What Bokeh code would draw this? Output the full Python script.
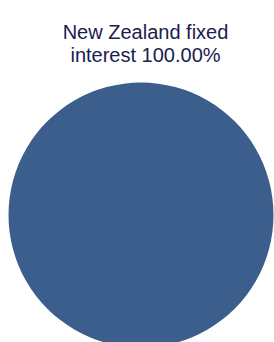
import math
from bokeh.plotting import figure
from bokeh.models import ColumnDataSource, Range1d
from bokeh.core.properties import value
from bokeh.embed import file_html
from bokeh.resources import INLINE

categories = ["New Zealand fixed interest"]
values = [100.0]
colors = ["#3b5e8c"]

total = sum(values)
starts, ends = [], []
acc = 0.0
eps = 1e-4  # avoid degenerate full-circle arc in SVG
for v in values:
    a0 = 2 * math.pi * acc / total
    a1 = 2 * math.pi * (acc + v) / total
    starts.append(math.pi / 2 - a1 + eps)
    ends.append(math.pi / 2 - a0)
    acc += v

W, H = 274, 342
p = figure(width=W, height=H, output_backend="svg", toolbar_location=None,
           x_range=Range1d(0, W), y_range=Range1d(0, H), min_border=0)
p.axis.visible = False
p.grid.visible = False
p.outline_line_color = None
p.background_fill_color = "white"

src = ColumnDataSource(dict(x=[140.5], y=[H - 214.5], r=[132.5],
                            start=starts, end=ends, color=colors))
p.wedge(x="x", y="y", radius="r", start_angle="start", end_angle="end",
        color="color", line_color=None, source=src)

label = f"{categories[0]} {values[0]:.2f}%"
words = label.split(" ")
line1 = " ".join(words[:3])
line2 = " ".join(words[3:])
p.text(x=[145, 145], y=[H - 31, H - 54.5], text=[line1, line2],
       text_font=value("Liberation Sans"), text_font_size="20px",
       text_color="#1a2050", text_align="center", text_baseline="alphabetic")

open("out.html", "w").write(file_html(p, INLINE))
